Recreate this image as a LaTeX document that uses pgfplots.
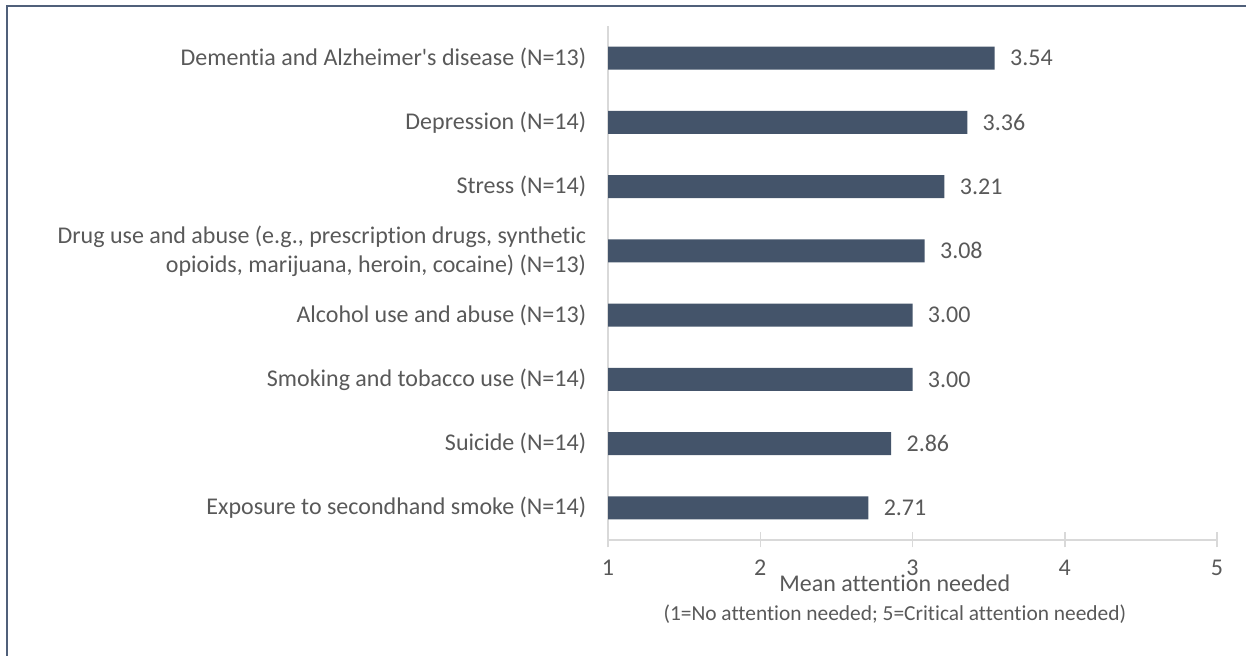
\documentclass[border=0pt]{standalone}
\usepackage{fontspec}
\setmainfont[Ligatures=CommonOff]{Carlito}
\usepackage{pgfplots}
\pgfplotsset{compat=1.18}
\definecolor{barcol}{HTML}{44546A}
\definecolor{txt}{HTML}{595959}
\definecolor{axcol}{HTML}{D9D9D9}
\definecolor{framecol}{HTML}{50607A}
\begin{document}
\begin{tikzpicture}[font=\fontsize{12pt}{14.5pt}\selectfont]
\useasboundingbox (0,0) rectangle (623pt,328pt);
\draw[framecol, line width=1pt] (3.5pt,-10pt) -- (3.5pt,325pt) -- (640pt,325pt);
\begin{axis}[
    at={(304pt,58pt)}, anchor=south west,
    scale only axis, width=304.5pt, height=257pt,
    xbar, bar width=11.5pt,
    xmin=1, xmax=5, ymin=0.5, ymax=8.5,
    xtick={1,2,3,4,5}, ytick={1,2,3,4,5,6,7,8},
    yticklabels={
        Exposure to secondhand smoke (N=14),
        Suicide (N=14),
        Smoking and tobacco use (N=14),
        Alcohol use and abuse (N=13),
        {Drug use and abuse (e.g., prescription drugs, synthetic\\opioids, marijuana, heroin, cocaine) (N=13)},
        Stress (N=14),
        Depression (N=14),
        Dementia and Alzheimer\textquotesingle s disease (N=13)},
    axis x line*=bottom, axis y line*=left,
    axis line style={axcol, line width=0.75pt},
    x tick style={axcol, line width=0.75pt},
    ytick style={draw=none},
    tick align=center, major tick length=7.5pt,
    /pgf/number format/assume math mode=true,
    tick label style={text=txt, font=\fontsize{12pt}{14.5pt}\selectfont},
    xticklabel style={anchor=north, inner sep=0pt, yshift=-6pt},
    yticklabel style={anchor=east, inner sep=0pt, xshift=-7pt, align=right},
    xlabel={Mean attention needed\\[0pt]{\fontsize{10.7pt}{13pt}\selectfont (1=No attention needed; 5=Critical attention needed)}},
    xlabel style={at={(axis description cs:0.471,0)}, anchor=north, yshift=-17pt, inner sep=0pt, align=center, text=txt},
    nodes near coords={\pgfmathprintnumber[fixed,fixed zerofill,precision=2]{\pgfplotspointmeta}},
    every node near coord/.append style={anchor=west, inner sep=0pt, xshift=7.5pt, text=txt, font=\fontsize{12pt}{14.5pt}\selectfont, /pgf/number format/assume math mode=true},
]
\addplot[fill=barcol, draw=none] coordinates {(2.71,1) (2.86,2) (3.00,3) (3.00,4) (3.08,5) (3.21,6) (3.36,7) (3.54,8)};
\end{axis}
\end{tikzpicture}
\end{document}
